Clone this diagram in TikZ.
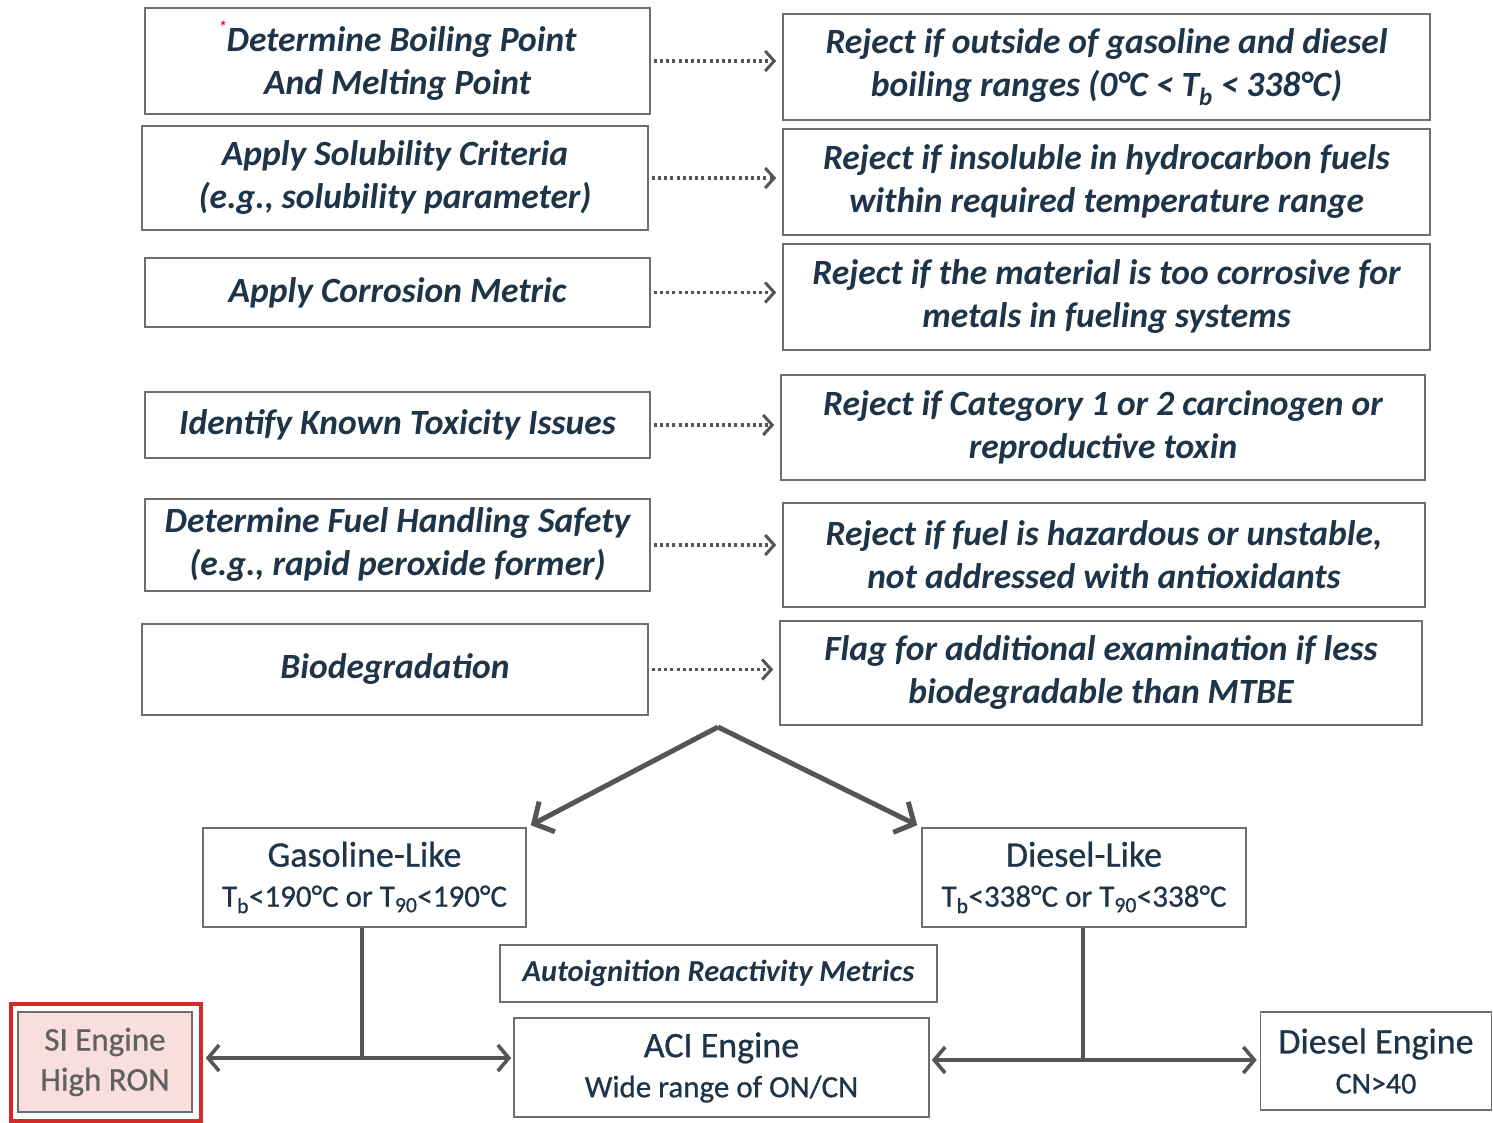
\documentclass[tikz,border=0pt]{standalone}
\usepackage{fontspec}
\setmainfont{Carlito}
\newfontfamily\medfont{Carlito}[FakeBold=0.7]
\usetikzlibrary{arrows.meta}
\definecolor{navy}{HTML}{1E3448}
\definecolor{boxgray}{HTML}{6E6E6E}
\definecolor{lineg}{HTML}{555555}
\definecolor{pinkf}{HTML}{F9DEDE}
\definecolor{redb}{HTML}{D42A2A}
\definecolor{sitext}{HTML}{606060}
\tikzset{
  box/.style={draw=boxgray, line width=1.6pt, fill=white, align=center, inner sep=0pt, text=navy},
  toptext/.style={font=\fontsize{35.5}{43}\selectfont\bfseries\itshape},
  bottext/.style={font=\medfont\fontsize{36}{40}\selectfont},
  dotarrow/.style={draw=lineg, line width=3.6pt, dash pattern=on 3pt off 3.2pt, -{Straight Barb[length=9pt,width=20pt,line width=3pt]}, shorten >=6pt},
  bigarrow/.style={draw=lineg, line width=5pt, -{Straight Barb[length=15pt,width=34pt,line width=5pt]}},
  hvarrow/.style={draw=lineg, line width=3.6pt, -{Straight Barb[length=11pt,width=26pt,line width=3.6pt]}},
  plain/.style={draw=lineg, line width=3.6pt},
}
\newcommand{\secl}{\fontsize{31}{34}\selectfont}
\begin{document}
\begin{tikzpicture}[x=1pt,y=-1pt]
\useasboundingbox (0,0) rectangle (1493,1122);
% left column
\node[box,toptext,minimum width=505pt,minimum height=106pt] (L1) at (397.5,61)
  {\raisebox{0.55em}{\textcolor{red}{\fontsize{16}{16}\selectfont *}}Determine Boiling Point\\And Melting Point};
\node[box,toptext,minimum width=506pt,minimum height=104pt] (L2) at (395,178)
  {Apply Solubility Criteria\\(e.g., solubility parameter)};
\node[box,toptext,minimum width=505pt,minimum height=69pt] (L3) at (397.5,292.5)
  {Apply Corrosion Metric};
\node[box,toptext,minimum width=505pt,minimum height=66pt] (L4) at (397.5,425)
  {Identify Known Toxicity Issues};
\node[box,toptext,minimum width=505pt,minimum height=92pt] (L5) at (397.5,545)
  {Determine Fuel Handling Safety\\(e.g., rapid peroxide former)};
\node[box,toptext,minimum width=506pt,minimum height=91pt] (L6) at (395,669.5)
  {Biodegradation};
% right column
\node[box,toptext,minimum width=647pt,minimum height=106pt] (R1) at (1106.5,67)
  {Reject if outside of gasoline and diesel\\boiling ranges (0°C < T\textsubscript{b} < 338°C)};
\node[box,toptext,minimum width=647pt,minimum height=106pt] (R2) at (1106.5,182)
  {Reject if insoluble in hydrocarbon fuels\\within required temperature range};
\node[box,toptext,minimum width=647pt,minimum height=106pt] (R3) at (1106.5,297)
  {Reject if the material is too corrosive for\\metals in fueling systems};
\node[box,toptext,minimum width=644pt,minimum height=105pt] (R4) at (1103,427.5)
  {Reject if Category 1 or 2 carcinogen or\\reproductive toxin};
\node[box,toptext,minimum width=642pt,minimum height=104pt] (R5) at (1104,555)
  {Reject if fuel is hazardous or unstable,\\not addressed with antioxidants};
\node[box,toptext,minimum width=642pt,minimum height=104pt] (R6) at (1101,673)
  {Flag for additional examination if less\\biodegradable than MTBE};
% dotted arrows
\foreach \i in {1,...,6}{
  \draw[dotarrow] ([xshift=3pt]L\i.east) -- (L\i.east -| R\i.west);
}
% split
\coordinate (apex) at (718,727);
\node[box,bottext,minimum width=323pt,minimum height=99pt] (gas) at (364.5,877.5)
  {Gasoline-Like\\{\secl T\textsubscript{b}<190°C or T\textsubscript{90}<190°C}};
\node[box,bottext,minimum width=324pt,minimum height=99pt] (dsl) at (1084,877.5)
  {Diesel-Like\\{\secl T\textsubscript{b}<338°C or T\textsubscript{90}<338°C}};
\draw[bigarrow] (apex) -- ([xshift=4pt,yshift=2pt]gas.north east);
\draw[bigarrow] (apex) -- ([xshift=-4pt,yshift=2pt]dsl.north west);
\node[box,font=\fontsize{30.5}{34}\selectfont\bfseries\itshape,minimum width=437pt,minimum height=57pt] (auto) at (718.5,973.5)
  {Autoignition Reactivity Metrics};
% engines
\node[draw=redb,line width=3.5pt,minimum width=190pt,minimum height=117pt,inner sep=0pt] (siout) at (106,1062.5) {};
\node[box,fill=pinkf,text=sitext,font=\medfont\fontsize{33}{40}\selectfont,minimum width=174pt,minimum height=100pt] (si) at (105,1062)
  {SI Engine\\High RON};
\node[box,bottext,minimum width=415pt,minimum height=99pt] (aci) at (721.5,1067.5)
  {ACI Engine\\{\secl Wide range of ON/CN}};
\node[box,bottext,minimum width=231pt,minimum height=98pt] (de) at (1376,1061)
  {Diesel Engine\\{\fontsize{30}{34}\selectfont CN>40}};
% connectors
\coordinate (jl) at (362,1058);
\coordinate (jr) at (1083,1060);
\draw[plain] (gas.south -| jl) -- (jl);
\draw[hvarrow] (jl) -- ([xshift=3pt]jl -| siout.east);
\draw[hvarrow] (jl) -- ([xshift=-2pt]jl -| aci.west);
\draw[plain] (dsl.south -| jr) -- (jr);
\draw[hvarrow] (jr) -- ([xshift=2pt]jr -| aci.east);
\draw[hvarrow] (jr) -- ([xshift=-3pt]jr -| de.west);
\end{tikzpicture}
\end{document}
